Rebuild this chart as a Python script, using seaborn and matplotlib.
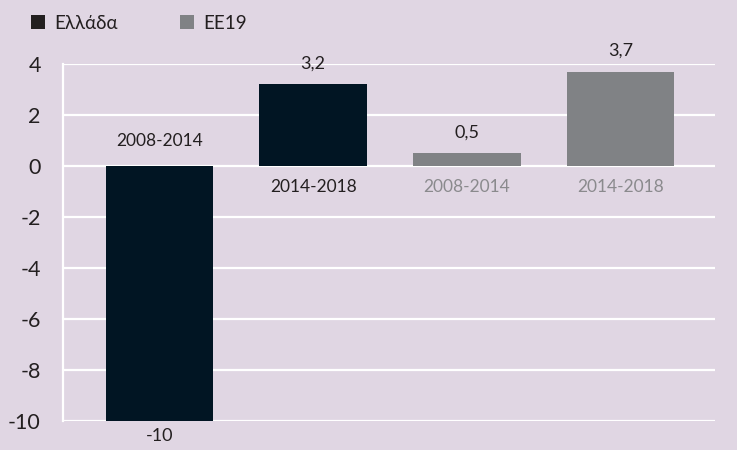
import matplotlib
matplotlib.use("Agg")
import matplotlib.pyplot as plt
import seaborn as sns
import pandas as pd
from matplotlib.patches import Patch

# ---- data ----
series = ["Ελλάδα", "Ελλάδα", "EE19", "EE19"]
periods = ["2008-2014", "2014-2018", "2008-2014", "2014-2018"]
values = [-10, 3.2, 0.5, 3.7]
value_labels = ["-10", "3,2", "0,5", "3,7"]
yticks = [-10, -8, -6, -4, -2, 0, 2, 4]

BG = "#e0d6e3"
DARK = "#011523"
GREY = "#808285"
TXT = "#231f20"
GTXT = "#8a8a8d"

sns.set_theme(style="white")
plt.rcParams["font.family"] = ["Lato", "DejaVu Sans"]

df = pd.DataFrame({
    "pos": [str(i) for i in range(len(values))],
    "series": series,
    "period": periods,
    "value": values,
})

fig = plt.figure(figsize=(7.37, 4.5), dpi=100, facecolor=BG)
ax = fig.add_axes([0.0855, 0.0644, 0.970 - 0.0855, 0.858 - 0.0644], facecolor=BG)

sns.barplot(data=df, x="pos", y="value", hue="series", dodge=False,
            palette={"Ελλάδα": DARK, "EE19": GREY}, width=0.70,
            saturation=1, ax=ax, legend=False, linewidth=0, edgecolor="none")

ax.set_ylim(-10, 4)
ax.set_xlim(-0.628, 3.615)
ax.set_yticks(yticks)
ax.set_yticklabels([str(t) for t in yticks], fontsize=15.5, color=TXT)
ax.set_xticks([])
ax.set_xlabel("")
ax.set_ylabel("")
ax.tick_params(axis="y", length=0, pad=16)
for y in yticks:
    ax.axhline(y, color="white", lw=1.6, zorder=0.5)
for s in ["top", "right", "bottom"]:
    ax.spines[s].set_visible(False)
ax.spines["left"].set_color("white")
ax.spines["left"].set_linewidth(1.6)

FS = 12.5
for i, (v, lab, per, ser) in enumerate(zip(values, value_labels, periods, series)):
    pc = TXT if ser == "Ελλάδα" else GTXT
    if v < 0:
        ax.annotate(lab, (i, v), xytext=(0, -11), textcoords="offset points",
                    ha="center", va="center", fontsize=13, color=TXT, annotation_clip=False)
        ax.annotate(per, (i, 0), xytext=(0, 18), textcoords="offset points",
                    ha="center", va="center", fontsize=FS, color=pc)
    else:
        ax.annotate(lab, (i, v), xytext=(0, 15), textcoords="offset points",
                    ha="center", va="center", fontsize=13, color=TXT, annotation_clip=False)
        ax.annotate(per, (i, 0), xytext=(0, -15), textcoords="offset points",
                    ha="center", va="center", fontsize=FS, color=pc)

handles = [Patch(facecolor="#231f20" if s == "Ελλάδα" else GREY, edgecolor="none", label=s)
           for s in ["Ελλάδα", "EE19"]]
fig.legend(handles=handles, loc="upper left", bbox_to_anchor=(0.019, 1.005), ncol=2,
           frameon=False, fontsize=13.5, handlelength=0.75, handleheight=0.75,
           handletextpad=0.5, columnspacing=3.3, labelcolor=TXT)

fig.savefig("out.png", dpi=100, facecolor=BG)
